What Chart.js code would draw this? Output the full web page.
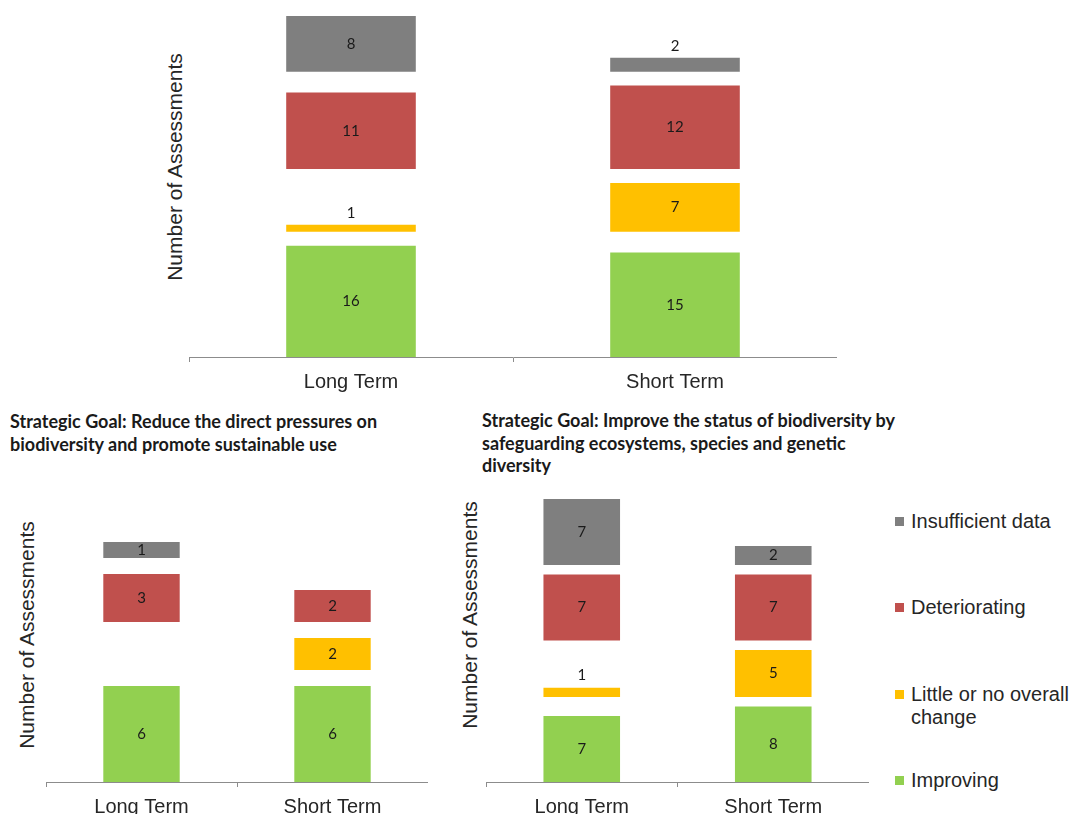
<!DOCTYPE html>
<html>
<head>
<meta charset="utf-8">
<title>Assessment trends by strategic goal</title>
<script src="https://cdn.jsdelivr.net/npm/chart.js@4.4.1/dist/chart.umd.min.js"></script>
<style>
  html, body { margin: 0; padding: 0; background: #fff; }
  body { width: 1072px; height: 814px; position: relative; overflow: hidden;
         font-family: "Liberation Sans", Arial, sans-serif; }
  canvas { position: absolute; }
  .ytitle { position: absolute; font-size: 21px; color: #262626; white-space: nowrap;
            transform: translate(-50%, -50%) rotate(-90deg); }
  .goal { position: absolute; font-family: Lato, sans-serif; font-weight: bold;
          font-size: 18px; line-height: 22.5px; color: #1a1a1a; white-space: nowrap; }
  .legend-item { position: absolute; left: 911px; width: 165px; font-size: 20px;
                 line-height: 23px; color: #262626; }
  .legend-item .mark { position: absolute; left: -16px; top: 7px; width: 9px; height: 9px; }
</style>
</head>
<body>
<canvas id="allChart" width="648" height="402" style="left:189px;top:0px;"></canvas>
<canvas id="pressChart" width="382" height="365" style="left:46px;top:462px;"></canvas>
<canvas id="statusChart" width="383" height="347" style="left:486px;top:480px;"></canvas>

<div class="ytitle" style="left:175px;top:167px;">Number of Assessments</div>
<div class="ytitle" style="left:27px;top:635px;">Number of Assessments</div>
<div class="ytitle" style="left:470px;top:615px;">Number of Assessments</div>

<div class="goal" style="left:10px;top:410px;">Strategic Goal: Reduce the direct pressures on<br>biodiversity and promote sustainable use</div>
<div class="goal" style="left:482px;top:409px;">Strategic Goal: Improve the status of biodiversity by<br>safeguarding ecosystems, species and genetic<br>diversity</div>

<div id="legend"></div>

<script>
const categories = ['Long Term', 'Short Term'];
const seriesNames = ['Improving', 'Little or no overall change', 'Deteriorating', 'Insufficient data'];
const seriesColors = ['#92d050', '#ffc000', '#c0504d', '#7f7f7f'];

// All assessments
const allImproving = [16, 15];
const allLittleChange = [1, 7];
const allDeteriorating = [11, 12];
const allInsufficient = [8, 2];

// Strategic Goal: reduce the direct pressures on biodiversity
const pressImproving = [6, 6];
const pressLittleChange = [0, 2];
const pressDeteriorating = [3, 2];
const pressInsufficient = [1, 0];

// Strategic Goal: improve the status of biodiversity
const statusImproving = [7, 8];
const statusLittleChange = [1, 5];
const statusDeteriorating = [7, 7];
const statusInsufficient = [7, 2];

// Each status gets its own band: it starts above the tallest segment of the
// band below, plus a gap, so the same status lines up across both bars.
function buildBands(seriesList, gap) {
  let start = 0;
  return seriesList.map(values => {
    const s = start;
    const ranges = values.map(v => (v > 0 ? [s, s + v] : null));
    start = Math.max(...values.map(v => s + v)) + gap;
    return ranges;
  });
}

// Writes each segment's count in its middle, or just above it when the segment is thin.
const segmentLabels = {
  id: 'segmentLabels',
  afterDatasetsDraw(chart) {
    const ctx = chart.ctx;
    ctx.save();
    ctx.font = '15px Lato';
    ctx.fillStyle = '#1a1a1a';
    ctx.textAlign = 'center';
    ctx.textBaseline = 'middle';
    chart.data.datasets.forEach((ds, di) => {
      const meta = chart.getDatasetMeta(di);
      meta.data.forEach((bar, i) => {
        const r = ds.data[i];
        if (!r) return;
        const value = r[1] - r[0];
        const p = bar.getProps(['x', 'y', 'base'], true);
        const top = Math.min(p.y, p.base);
        const h = Math.abs(p.base - p.y);
        const ly = h >= 15 ? top + h / 2 : top - 12;
        ctx.fillText(String(value), p.x, ly);
      });
    });
    ctx.restore();
  }
};

function makeChart(id, seriesList, gap, yMax) {
  const bands = buildBands(seriesList, gap);
  return new Chart(document.getElementById(id), {
    type: 'bar',
    data: {
      labels: categories,
      datasets: bands.map((ranges, k) => ({
        label: seriesNames[k],
        data: ranges,
        backgroundColor: seriesColors[k],
        borderWidth: 0,
        barPercentage: 0.4,
        categoryPercentage: 1
      }))
    },
    options: {
      responsive: false,
      animation: false,
      devicePixelRatio: 1,
      layout: { padding: 0 },
      plugins: { legend: { display: false }, tooltip: { enabled: false } },
      scales: {
        x: {
          stacked: true,
          offset: true,
          grid: { offset: true, drawOnChartArea: false, drawTicks: true, tickLength: 5,
                  color: '#8c8c8c', lineWidth: 1 },
          border: { display: true, color: '#8c8c8c', width: 1 },
          ticks: { padding: 8, color: '#262626',
                   font: { family: 'Liberation Sans', size: 20 } }
        },
        y: { display: false, stacked: false, min: 0, max: yMax }
      }
    },
    plugins: [segmentLabels]
  });
}

makeChart('allChart', [allImproving, allLittleChange, allDeteriorating, allInsufficient], 2, 51.3);
makeChart('pressChart', [pressImproving, pressLittleChange, pressDeteriorating, pressInsufficient], 1, 20);
makeChart('statusChart', [statusImproving, statusLittleChange, statusDeteriorating, statusInsufficient], 1, 32);

// Legend, top entry first
const legendTops = [510, 596, 683, 769];
const legend = document.getElementById('legend');
[3, 2, 1, 0].forEach((k, row) => {
  const item = document.createElement('div');
  item.className = 'legend-item';
  item.style.top = legendTops[row] + 'px';
  const mark = document.createElement('span');
  mark.className = 'mark';
  mark.style.background = seriesColors[k];
  item.appendChild(mark);
  item.appendChild(document.createTextNode(seriesNames[k]));
  legend.appendChild(item);
});
</script>
</body>
</html>
